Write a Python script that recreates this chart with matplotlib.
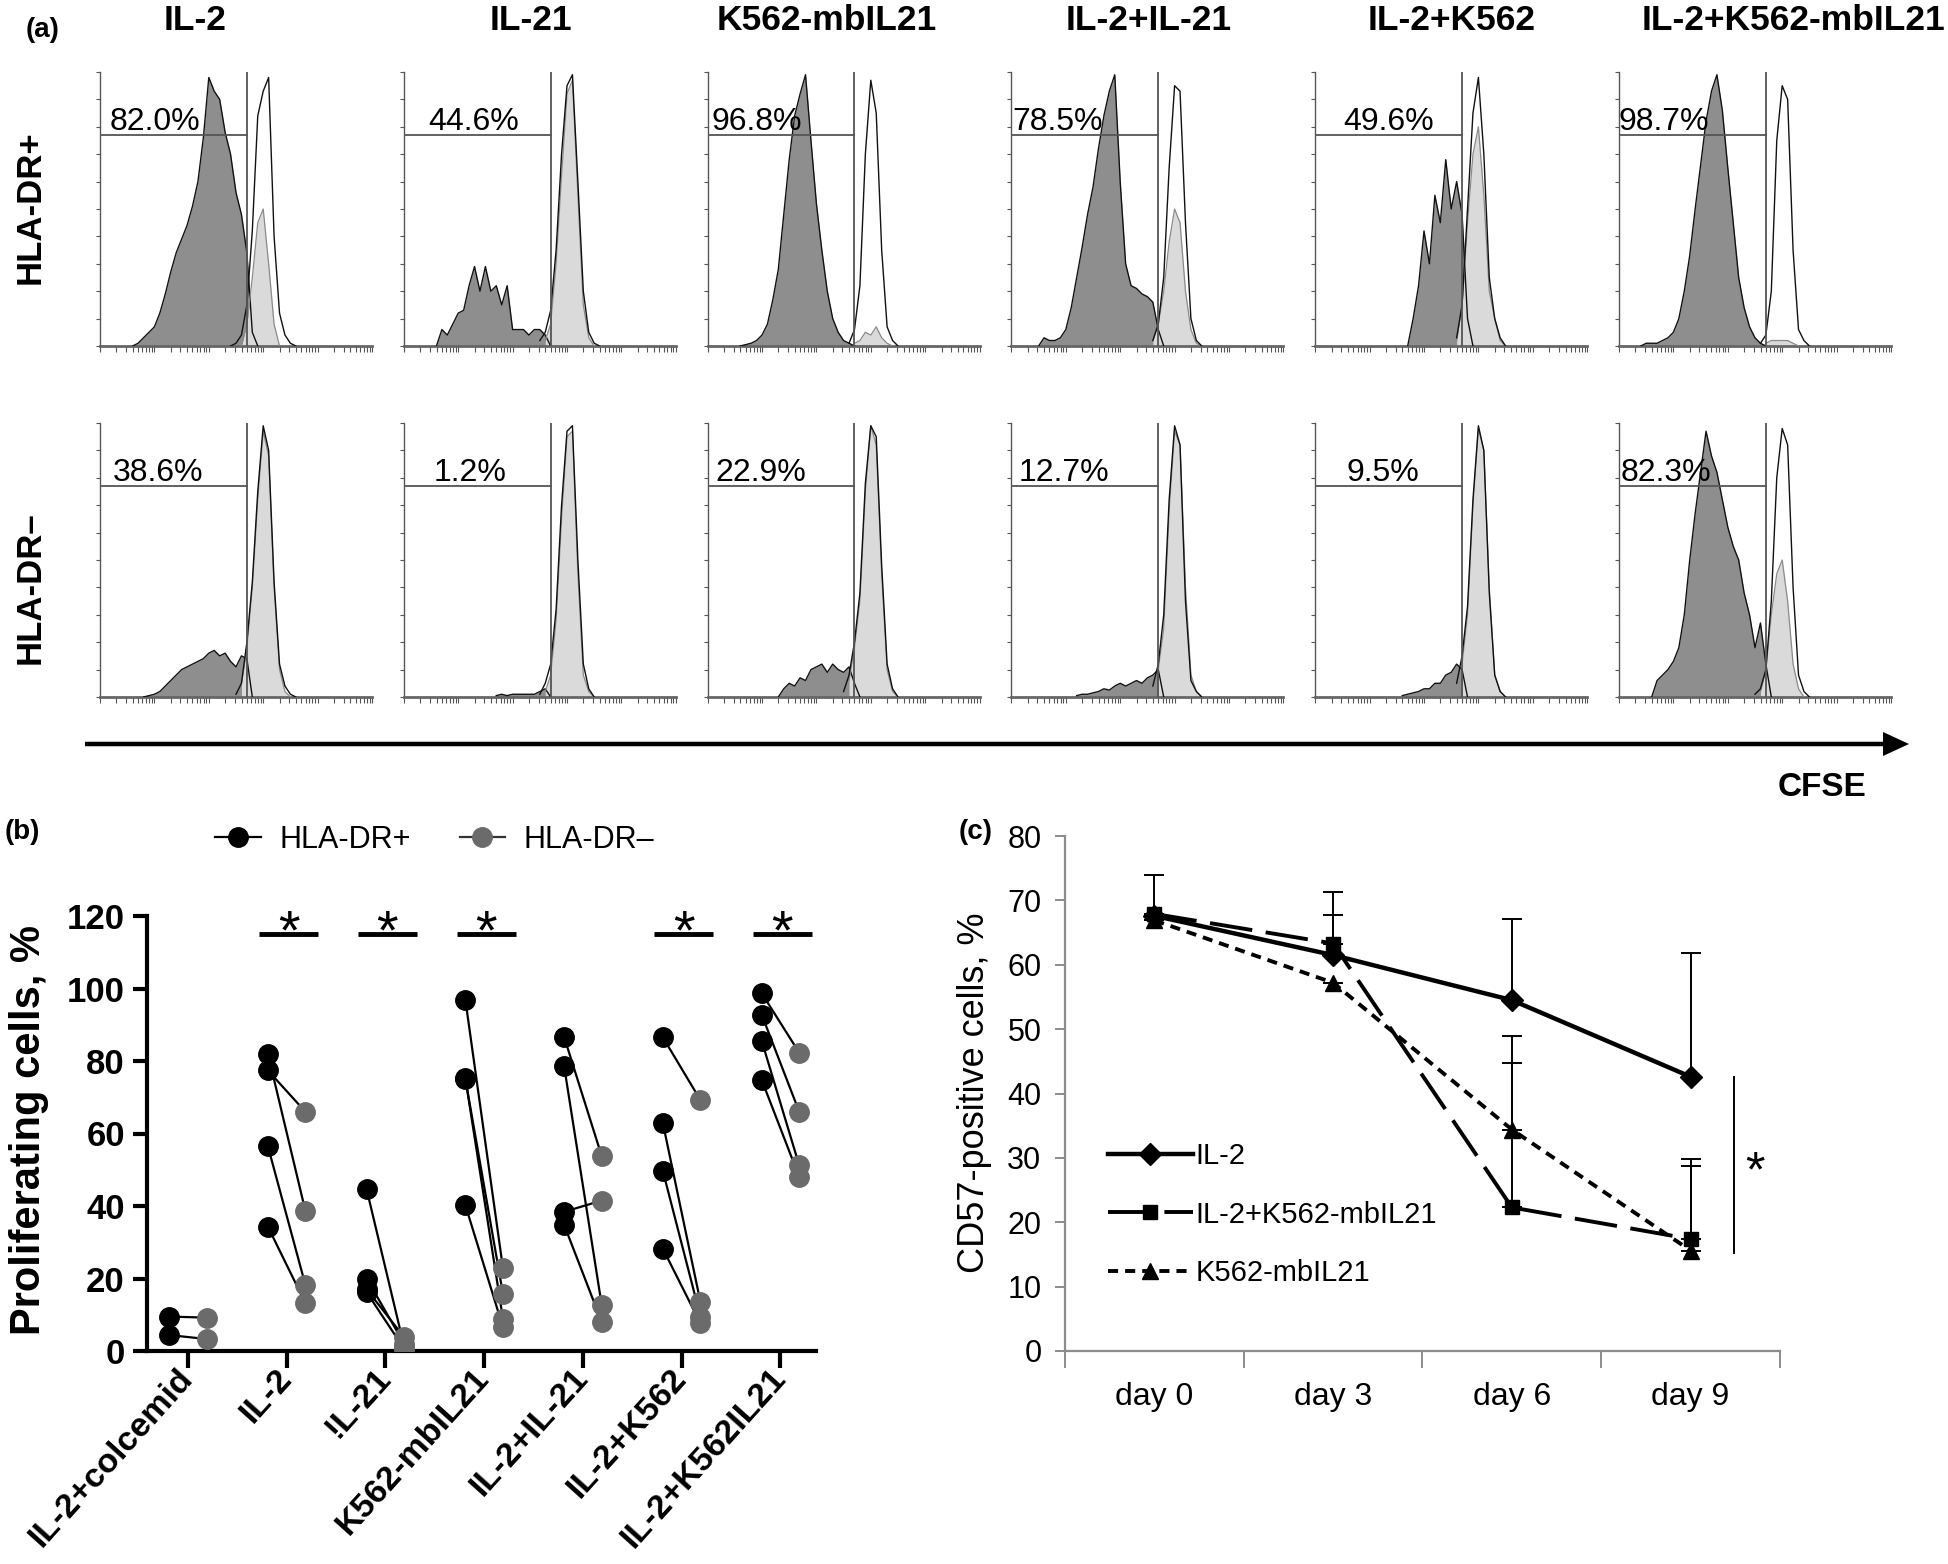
import numpy as np
import matplotlib
matplotlib.use('Agg')
import matplotlib.pyplot as plt
from matplotlib.lines import Line2D
from matplotlib.patches import FancyArrow

plt.rcParams['font.family'] = ['Liberation Sans', 'DejaVu Sans']

# ---------------- data ----------------
conditions = ['IL-2', 'IL-21', 'K562-mbIL21', 'IL-2+IL-21', 'IL-2+K562', 'IL-2+K562-mbIL21']
pct_dr_pos = ['82.0%', '44.6%', '96.8%', '78.5%', '49.6%', '98.7%']
pct_dr_neg = ['38.6%', '1.2%', '22.9%', '12.7%', '9.5%', '82.3%']

# CFSE histograms: (first channel in log decades, counts per 0.1 decade, peak ~1)
# dark = divided cells, light = undivided overlay, open = colcemid control
pos_il2_dark = (0.6, [0, .01, .03, .05, .07, .12, .19, .27, .34, .39, .44, .51, .6, .76, .98, .93, .9, .78, .7, .56, .48, .34, .05, 0])
pos_il2_light = (2.6, [0, .08, .25, .45, .5, .3, .08, 0])
pos_il2_open = (2.4, [0, .01, .04, .15, .42, .84, .93, .98, .4, .12, .04, .01, 0])

pos_il21_dark = (0.6, [0, .06, .04, .08, .12, .13, .22, .29, .2, .29, .2, .22, .15, .22, .06, .06, .06, .04, .06, .06, .04, 0])
pos_il21_light = (2.6, [.02, .08, .3, .62, .92, .97, .55, .15, .03, 0])
pos_il21_open = (2.5, [.02, .05, .13, .35, .7, .95, .99, .6, .2, .05, .01, 0])

pos_k562_dark = (0.6, [0, .005, .01, .02, .04, .08, .17, .28, .48, .68, .84, .92, .99, .75, .52, .35, .2, .1, .05, .02, .01, 0])
pos_k562_light = (2.7, [.01, .02, .05, .04, .07, .03, .01, 0])
pos_k562_open = (2.6, [.01, .06, .22, .7, .97, .85, .35, .07, .02, 0])

pos_il2il21_dark = (0.5, [0, .03, .02, .02, .03, .06, .14, .25, .36, .48, .58, .72, .84, .93, .99, .6, .3, .22, .21, .19, .18, .16, .06, 0])
pos_il2il21_light = (2.6, [.02, .08, .2, .38, .5, .45, .2, .06, .01, 0])
pos_il2il21_open = (2.6, [.02, .08, .25, .65, .95, .93, .45, .1, .02, 0])

pos_il2k562_dark = (1.7, [0, .1, .22, .42, .3, .55, .45, .68, .5, .6, .48, .1, 0])
pos_il2k562_light = (2.6, [.02, .15, .45, .7, .8, .55, .2, .1, .02, 0])
pos_il2k562_open = (2.6, [.03, .15, .5, .85, .98, .7, .25, .1, .03, 0])

pos_il2mb_dark = (0.4, [0, .01, .01, .01, .02, .03, .05, .1, .2, .33, .5, .66, .82, .93, .99, .86, .65, .45, .25, .14, .07, .03, .01, 0])
pos_il2mb_light = (2.7, [.01, .02, .02, .02, .02, .01, 0])
pos_il2mb_open = (2.6, [.01, .04, .2, .75, .95, .9, .35, .06, .02, 0])

neg_il2_dark = (0.8, [0, .005, .01, .02, .04, .06, .08, .1, .11, .12, .13, .14, .16, .17, .15, .16, .13, .11, .15, .14, 0])
neg_il2_light = (2.6, [.05, .18, .4, .72, .97, .88, .4, .1, .02, 0])
neg_il2_open = (2.5, [.01, .05, .2, .42, .75, .99, .9, .42, .12, .04, .01, 0])

neg_il21_dark = (1.7, [.005, .01, .005, .01, .01, .01, .01, .01, .02, .03, 0])
neg_il21_light = (2.6, [.02, .08, .28, .65, .95, .97, .45, .08, .02, 0])
neg_il21_open = (2.5, [.01, .05, .12, .32, .7, .97, .99, .5, .12, .03, 0])

neg_k562_dark = (1.3, [0, .03, .05, .04, .07, .06, .1, .11, .12, .09, .12, .1, .09, .11, .05, 0])
neg_k562_light = (2.6, [.06, .18, .35, .75, .99, .92, .45, .1, .02, 0])
neg_k562_open = (2.5, [.02, .08, .2, .38, .78, .99, .95, .48, .12, .03, 0])

neg_il2il21_dark = (1.2, [.005, .01, .01, .015, .02, .03, .025, .04, .05, .04, .05, .06, .05, .07, .08, .1, 0])
neg_il2il21_light = (2.7, [.1, .25, .68, .97, .92, .4, .08, .02, 0])
neg_il2il21_open = (2.6, [.04, .12, .3, .72, .99, .92, .35, .06, .02, 0])

neg_il2k562_dark = (1.6, [.005, .01, .015, .02, .03, .03, .05, .05, .08, .09, .12, .1, 0])
neg_il2k562_light = (2.7, [.12, .3, .7, .98, .9, .4, .08, .02, 0])
neg_il2k562_open = (2.6, [.05, .15, .33, .72, .99, .9, .38, .08, .02, 0])

neg_il2mb_dark = (0.6, [0, .06, .08, .1, .13, .18, .3, .5, .67, .82, .97, .88, .82, .72, .62, .55, .5, .38, .3, .18, .27, .12, 0])
neg_il2mb_light = (2.6, [.02, .1, .3, .45, .5, .35, .12, .03, 0])
neg_il2mb_open = (2.5, [.01, .03, .1, .35, .8, .98, .92, .4, .08, .02, 0])

row_pos = [(pos_il2_dark, pos_il2_light, pos_il2_open), (pos_il21_dark, pos_il21_light, pos_il21_open),
           (pos_k562_dark, pos_k562_light, pos_k562_open), (pos_il2il21_dark, pos_il2il21_light, pos_il2il21_open),
           (pos_il2k562_dark, pos_il2k562_light, pos_il2k562_open), (pos_il2mb_dark, pos_il2mb_light, pos_il2mb_open)]
row_neg = [(neg_il2_dark, neg_il2_light, neg_il2_open), (neg_il21_dark, neg_il21_light, neg_il21_open),
           (neg_k562_dark, neg_k562_light, neg_k562_open), (neg_il2il21_dark, neg_il2il21_light, neg_il2il21_open),
           (neg_il2k562_dark, neg_il2k562_light, neg_il2k562_open), (neg_il2mb_dark, neg_il2mb_light, neg_il2mb_open)]

# panel b: proliferating cells, %, paired per donor
b_categories = ['IL-2+colcemid', 'IL-2', '!L-21', 'K562-mbIL21', 'IL-2+IL-21', 'IL-2+K562', 'IL-2+K562IL21']
prolif_dr_pos = [[9.5, 4.4], [82.0, 77.4, 56.5, 34.3], [44.6, 20.0, 17.0, 16.2], [96.8, 75.2, 75.0, 40.2],
                 [86.6, 78.5, 38.4, 34.8], [86.5, 62.8, 49.6, 28.2], [98.7, 92.8, 85.6, 74.8]]
prolif_dr_neg = [[9.2, 3.3], [38.6, 66.0, 18.2, 13.2], [1.2, 2.0, 3.8, 0.6], [22.9, 8.9, 15.8, 6.6],
                 [53.8, 12.7, 41.5, 8.0], [69.2, 13.5, 9.5, 7.6], [82.3, 66.0, 51.2, 48.0]]
b_signif = [1, 2, 3, 5, 6]

# panel c: CD57-positive cells, %
days = ['day 0', 'day 3', 'day 6', 'day 9']
cd57_il2 = [67.6, 61.5, 54.5, 42.6]
cd57_il2_err = [6.3, 9.8, 12.6, 19.2]
cd57_il2_mb = [67.9, 63.3, 22.3, 17.4]
cd57_il2_mb_err = [0, 4.4, 22.5, 11.3]
cd57_mb = [66.9, 57.2, 34.4, 15.6]
cd57_mb_err = [0, 0, 14.6, 14.3]

# ---------------- figure ----------------
W, H = 1949, 1564
fig = plt.figure(figsize=(W / 100, H / 100), dpi=100)


def px_box(x0, y0, x1, y1):
    return [x0 / W, 1 - y1 / H, (x1 - x0) / W, (y1 - y0) / H]


def ftext(x, y, s, **kw):
    return fig.text(x / W, 1 - y / H, s, **kw)


STEP = 0.1
GATE_X = 2.7
GATE_Y = 0.77
AX_GRAY = '#555555'


def curve(spec):
    start, counts = spec
    return start + STEP * np.arange(len(counts)), np.array(counts)


def draw_hist(ax, curves, pct, pct_x):
    (xd, yd), (xl, yl), (xo, yo) = [curve(c) for c in curves]
    ax.fill_between(xd, yd, color='#8e8e8e', lw=0, zorder=2)
    ax.fill_between(xl, yl, color='#dadada', lw=0, zorder=2.5)
    ax.plot(xd, yd, color='#111111', lw=1.0, zorder=3)
    ax.plot(xl, yl, color='#8a8a8a', lw=0.9, zorder=3)
    ax.plot(xo, yo, color='#111111', lw=1.0, zorder=3.2)
    ax.axvline(GATE_X, color=AX_GRAY, lw=1.3, zorder=4)
    ax.plot([0, GATE_X], [GATE_Y, GATE_Y], color=AX_GRAY, lw=1.3, zorder=4)
    ax.text(pct_x, GATE_Y + 0.02, pct, fontsize=23, va='baseline', ha='left', zorder=5)
    ax.set_xlim(0, 5)
    ax.set_ylim(0, 1)
    for s in ['top', 'right']:
        ax.spines[s].set_visible(False)
    ax.spines['left'].set_color(AX_GRAY)
    ax.spines['left'].set_linewidth(1.0)
    ax.spines['bottom'].set_color('#666666')
    ax.spines['bottom'].set_linewidth(2.0)
    ax.set_xticks(range(6))
    ax.set_xticks([k + np.log10(m) for k in range(5) for m in range(2, 10)], minor=True)
    ax.set_yticks(np.linspace(0, 1, 11))
    ax.tick_params(axis='x', which='both', direction='out', length=4, width=0.8, color=AX_GRAY,
                   labelbottom=False)
    ax.tick_params(axis='y', direction='out', length=3, width=0.8, color=AX_GRAY, labelleft=False)
    ax.patch.set_alpha(0)


pos_text_x = [0.18, 0.45, 0.07, 0.02, 0.51, 0.0]
neg_text_x = [0.23, 0.54, 0.14, 0.14, 0.58, 0.03]
for i in range(6):
    left = 100 + 303.8 * i
    ax1 = fig.add_axes(px_box(left, 72, left + 272, 346))
    draw_hist(ax1, row_pos[i], pct_dr_pos[i], pos_text_x[i])
    ax2 = fig.add_axes(px_box(left, 423, left + 272, 697))
    draw_hist(ax2, row_neg[i], pct_dr_neg[i], neg_text_x[i])

title_x = [195, 531, 827, 1149, 1452, 1794]
for x, t in zip(title_x, conditions):
    ftext(x, 20, t, fontsize=25.5, fontweight='bold', ha='center', va='center')
ftext(43, 30, '(a)', fontsize=20, fontweight='bold', ha='center', va='center')
ftext(30, 207, 'HLA-DR+', fontsize=25, fontweight='bold', rotation=90, ha='center', va='center')
ftext(30, 588, 'HLA-DR\u2013', fontsize=25, fontweight='bold', rotation=90, ha='center', va='center')

fig.add_artist(FancyArrow(85 / W, 1 - 744 / H, (1909 - 85) / W, 0, width=4.5 / H, head_width=24 / H,
                          head_length=26 / W, length_includes_head=True, transform=fig.transFigure,
                          color='black', lw=0))
ftext(1822, 787, 'CFSE', fontsize=24, fontweight='bold', ha='center', va='center')

# ---------------- panel b ----------------
axb = fig.add_axes(px_box(147, 916, 816, 1351))
OFF = 0.19
for i, (p, n) in enumerate(zip(prolif_dr_pos, prolif_dr_neg)):
    for a, b in zip(p, n):
        axb.plot([i - OFF, i + OFF], [a, b], color='black', lw=1.6, zorder=2)
    axb.plot([i + OFF] * len(n), n, 'o', color='#6b6b6b', ms=14, zorder=3)
    axb.plot([i - OFF] * len(p), p, 'o', color='black', ms=14, zorder=4)
for i in b_signif:
    axb.plot([i - 0.28, i + 0.32], [115, 115], color='black', lw=3.5, solid_capstyle='butt')
    axb.text(i + 0.02, 111.0, '*', fontsize=40, ha='center', va='baseline')

axb.set_xlim(-0.414, 6.36)
axb.set_ylim(0, 120)
for s in ['top', 'right']:
    axb.spines[s].set_visible(False)
for s in ['left', 'bottom']:
    axb.spines[s].set_linewidth(3)
axb.set_yticks(range(0, 121, 20))
axb.set_yticklabels([str(v) for v in range(0, 121, 20)], fontsize=25, fontweight='bold')
axb.set_xticks(range(len(b_categories)))
axb.set_xticklabels(b_categories, fontsize=24.5, fontweight='bold', rotation=48, ha='right',
                    va='center', rotation_mode='anchor')
axb.tick_params(axis='y', direction='out', length=10, width=3, pad=6)
axb.tick_params(axis='x', direction='out', length=12, width=3, pad=4)
ftext(29, 1130, 'Proliferating cells, %', fontsize=30, fontweight='bold', rotation=90,
      ha='center', va='center')
ftext(22, 832, '(b)', fontsize=20, fontweight='bold', ha='center', va='center')

b_handles = [Line2D([], [], color='black', marker='o', ms=14, lw=1.6),
             Line2D([], [], color='#333333', marker='o', ms=14, lw=1.6, markerfacecolor='#6b6b6b',
                    markeredgecolor='#6b6b6b')]
axb.legend(b_handles, ['HLA-DR+', 'HLA-DR\u2013'], ncol=2, loc='center left',
           bbox_to_anchor=(215 / W, 1 - 840 / H), bbox_transform=fig.transFigure, frameon=False,
           fontsize=22, handlelength=1.5, handletextpad=0.6, columnspacing=1.6, borderpad=0,
           borderaxespad=0)

# ---------------- panel c ----------------
axc = fig.add_axes(px_box(1065, 836, 1780, 1351))
xpos = np.arange(len(days)) + 0.5
C_GRAY = '#8c8c8c'
series = [(cd57_il2, cd57_il2_err, 'IL-2', '-', 'D', 11, 3.2),
          (cd57_il2_mb, cd57_il2_mb_err, 'IL-2+K562-mbIL21', (0, (11, 3.5)), 's', 10, 2.8),
          (cd57_mb, cd57_mb_err, 'K562-mbIL21', (0, (2.6, 1.8)), '^', 12, 2.8)]
handles = []
for vals, err, lab, ls, mk, ms, lw in series:
    axc.errorbar(xpos, vals, yerr=[np.zeros(len(err)), err], fmt='none', ecolor='black',
                 elinewidth=1.4, capsize=7, capthick=1.4, zorder=2)
    h, = axc.plot(xpos, vals, color='black', linestyle=ls, lw=lw, marker=mk, ms=ms, zorder=3,
                  label=lab)
    handles.append(h)
axc.plot([3.745, 3.745], [15.3, 42.5], color='black', lw=1.4)
axc.text(3.86, 25.5, '*', fontsize=36, ha='center', va='baseline')

axc.set_xlim(0, 4)
axc.set_ylim(0, 80)
for s in ['top', 'right']:
    axc.spines[s].set_visible(False)
for s in ['left', 'bottom']:
    axc.spines[s].set_color(C_GRAY)
    axc.spines[s].set_linewidth(1.6)
axc.set_yticks(range(0, 81, 10))
axc.set_yticklabels([str(v) for v in range(0, 81, 10)], fontsize=22)
axc.set_xticks(range(5))
axc.set_xticklabels([])
axc.set_xticks(xpos, minor=True)
axc.set_xticklabels(days, minor=True, fontsize=23)
axc.tick_params(axis='y', direction='out', length=7, width=1.4, color=C_GRAY, pad=10)
axc.tick_params(axis='x', which='major', direction='out', length=12, width=1.4, color=C_GRAY)
axc.tick_params(axis='x', which='minor', length=0, pad=22)
axc.legend(handles=handles, loc='upper left', bbox_to_anchor=(1108 / W, 1 - 1142 / H),
           bbox_transform=fig.transFigure, frameon=False, fontsize=21, handlelength=2.9,
           handletextpad=0.1, labelspacing=1.05, borderpad=0, borderaxespad=0)
ftext(975, 1093, 'CD57-positive cells, %', fontsize=26, rotation=90, ha='center', va='center')
ftext(976, 832, '(c)', fontsize=20, fontweight='bold', ha='center', va='center')

fig.savefig('out.png', dpi=100)
